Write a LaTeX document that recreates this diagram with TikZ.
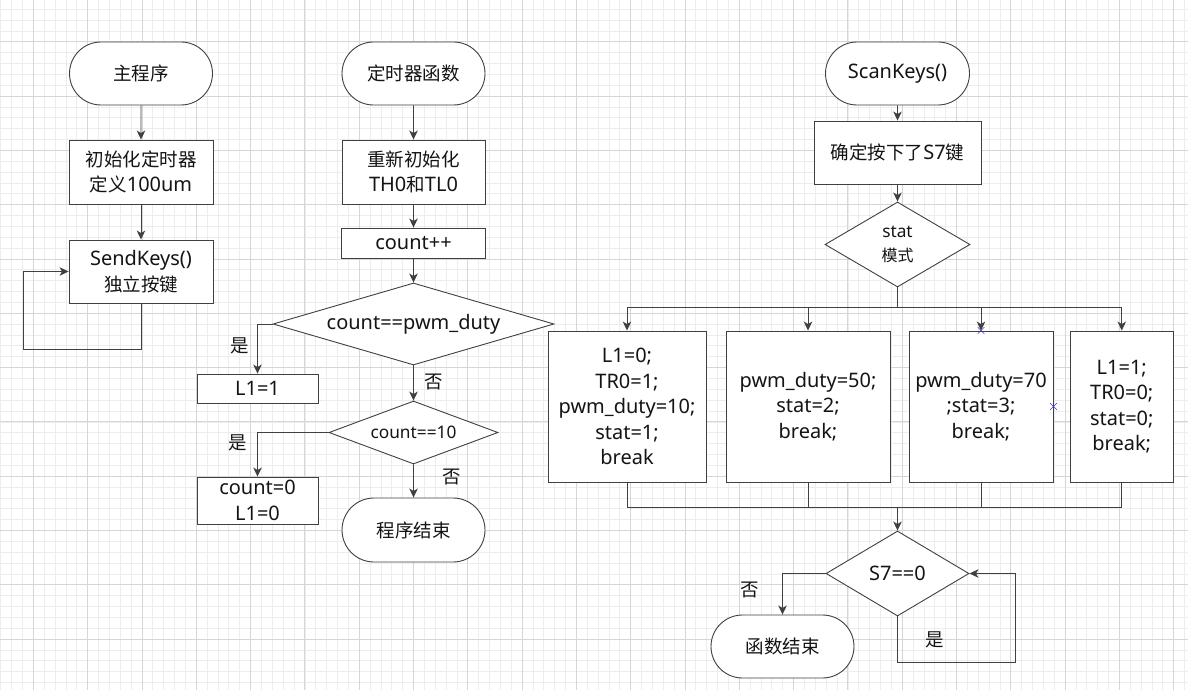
\documentclass[tikz,border=0pt]{standalone}
\usepackage{fontspec}
\setmainfont{Noto Sans}[Scale=1.08]
\newfontfamily\cjk{Noto Sans CJK SC}
\usetikzlibrary{arrows.meta, shapes.geometric, shapes.misc, calc}

\definecolor{lineGray}{HTML}{404040}
\definecolor{textDark}{HTML}{141414}
\definecolor{gridMinorColor}{HTML}{EDEDED}
\definecolor{gridMajorColor}{HTML}{D6D6D6}
\definecolor{markBlue}{HTML}{3A3AD0}

\newcommand{\zh}[1]{{\cjk #1}}

\begin{document}
\begin{tikzpicture}[x=1pt, y=-1pt,
  every node/.style={text=textDark, font=\fontsize{18.5}{25.5}\selectfont},
  smalltext/.style={font=\fontsize{16}{24}\selectfont},
  procbox/.style={draw=lineGray, line width=0.9pt, rectangle, inner sep=0pt, align=center, fill=white},
  termbox/.style={draw=lineGray, line width=0.9pt, rounded rectangle, inner sep=0pt, minimum width=143pt, minimum height=63pt, fill=white},
  decbox/.style={draw=lineGray, line width=0.9pt, diamond, inner sep=0pt, align=center, fill=white},
  wire/.style={draw=lineGray, line width=0.9pt},
  flow/.style={wire, -{Stealth[length=9pt, width=8.5pt, inset=2.5pt]}},
  minorline/.style={draw=gridMinorColor, line width=0.6pt},
  majorline/.style={draw=gridMajorColor, line width=0.8pt},
  xmark/.style={cross out, draw=markBlue, line width=0.6pt, minimum size=6pt, inner sep=0pt},
]

%% Parameters : columns, can be modified
\def\mainX{141}
\def\tmrX{413.5}
\def\scanX{897.5}

%% background grid
\useasboundingbox (0,0) rectangle (1188,690);
\fill[white] (0,0) rectangle (1188,690);
\foreach \i in {0,...,109}
    \draw[minorline] ({0.72+10.86*\i}, 0) -- ({0.72+10.86*\i}, 690);
\foreach \i in {0,...,62}
    \draw[minorline] (0, {9.12+10.86*\i}) -- (1188, {9.12+10.86*\i});
\foreach \i in {0,...,21}
    \draw[majorline] ({33.3+54.3*\i}, 0) -- ({33.3+54.3*\i}, 690);
\foreach \i in {0,...,11}
    \draw[majorline] (0, {41.7+54.3*\i}) -- (1188, {41.7+54.3*\i});


    %% ***main program***
    \node[termbox] (mainStart) at (\mainX, 73.5) {\zh{主程序}};
    \node[procbox, minimum width=144pt, minimum height=64pt] (mainInit) at (\mainX, 172) {\zh{初始化定时器}\\\zh{定义}100um};
    \node[procbox, minimum width=144pt, minimum height=63pt] (mainSend) at (\mainX, 271.5) {SendKeys()\\\zh{独立按键}};

        \draw[flow] (mainStart) -- (mainInit);
        \draw[flow] (mainInit) -- (mainSend);
        \coordinate (mainLoop) at (23, 349);
        \draw[flow] (mainSend.south) |- (mainLoop) |- (mainSend.west);


    %% ***timer function***
    \node[termbox] (tmrStart) at (\tmrX, 73.5) {\zh{定时器函数}};
    \node[procbox, minimum width=143pt, minimum height=64pt] (tmrInit) at (\tmrX, 172) {\zh{重新初始化}\\TH0\zh{和}TL0};
    \node[procbox, minimum width=144pt, minimum height=30pt] (tmrCount) at (\tmrX, 243) {count++};
    \node[decbox, aspect=3.4, minimum width=281pt, minimum height=82pt] (tmrDuty) at (\tmrX, 324) {count==pwm\_duty};
    \node[procbox, minimum width=121pt, minimum height=29pt] (tmrSetL1) at (257.5, 388.5) {L1=1};
    \node[decbox, smalltext, aspect=2.7, minimum width=169pt, minimum height=63pt] (tmrTen) at (\tmrX, 432.5) {count==10};
    \node[procbox, minimum width=121pt, minimum height=47pt] (tmrReset) at (257.5, 500.5) {count=0\\L1=0};
    \node[termbox, minimum height=64pt] (tmrEnd) at (\tmrX, 530) {\zh{程序结束}};

    \node (yesDuty) at (240, 346) {\zh{是}};
    \node (noDuty) at (434, 382) {\zh{否}};
    \node (yesTen) at (238, 443) {\zh{是}};
    \node (noTen) at (452, 477) {\zh{否}};

        \draw[flow] (tmrStart) -- (tmrInit);
        \draw[flow] (tmrInit) -- (tmrCount);
        \draw[flow] (tmrCount) -- (tmrDuty);
        \draw[flow] (tmrDuty.west) -| (tmrSetL1.north);
        \draw[flow] (tmrDuty) -- (tmrTen);
        \draw[flow] (tmrTen.west) -| (tmrReset.north);
        \draw[flow] (tmrTen) -- (tmrEnd);


    %% ***ScanKeys function***
    \node[termbox, minimum width=144pt] (scanStart) at (\scanX, 73.5) {ScanKeys()};
    \node[procbox, minimum width=167pt, minimum height=63pt] (scanPress) at (\scanX, 152.5) {\zh{确定按下了}S7\zh{键}};
    \node[decbox, smalltext, aspect=1.7, minimum width=145pt, minimum height=85pt] (scanStat) at (\scanX, 244.5) {stat\\\zh{模式}};

    %% the four cases of stat
    \node[procbox, minimum width=158pt, minimum height=151pt] (caseA) at (627, 406.5) {L1=0;\\TR0=1;\\pwm\_duty=10;\\stat=1;\\break};
    \node[procbox, minimum width=164pt, minimum height=151pt] (caseB) at (808, 406.5) {pwm\_duty=50;\\stat=2;\\break;};
    \node[procbox, minimum width=144pt, minimum height=151pt] (caseC) at (981, 406.5) {pwm\_duty=70\\;stat=3;\\break;};
    \node[procbox, minimum width=103.5pt, minimum height=151pt] (caseD) at (1121.75, 406.5) {L1=1;\\TR0=0;\\stat=0;\\break;};

    \node[decbox, aspect=1.7, minimum width=143pt, minimum height=85pt] (scanRelease) at (\scanX, 573.5) {S7==0};
    \node[termbox] (scanEnd) at (782.5, 646.5) {\zh{函数结束}};

    \node (noRelease) at (750, 590) {\zh{否}};
    \node (yesRelease) at (935, 640) {\zh{是}};

        \draw[flow] (scanStart) -- (scanPress);
        \draw[flow] (scanPress) -- (scanStat);
        \coordinate (scanSplit) at (\scanX, 307);
        \draw[wire] (scanStat.south) -- (scanSplit);
        \foreach \c in {caseA, caseB, caseC, caseD}
            \draw[flow] (scanSplit) -| (\c.north);
        \coordinate (scanJoin) at (\scanX, 507);
        \foreach \c in {caseA, caseB, caseC, caseD}
            \draw[wire] (\c.south) |- (scanJoin);
        \draw[flow] (scanJoin) -- (scanRelease);
        \draw[flow] (scanRelease.west) -| (scanEnd.north);
        \coordinate (scanLoop) at (1015, 662);
        \draw[flow] (scanRelease.south) |- (scanLoop) |- (scanRelease.east);

    %% selection marks
    \node[xmark] (markTop) at (caseC.north) {};
    \node[xmark] (markSide) at (caseC.east) {};

\end{tikzpicture}
\end{document}
